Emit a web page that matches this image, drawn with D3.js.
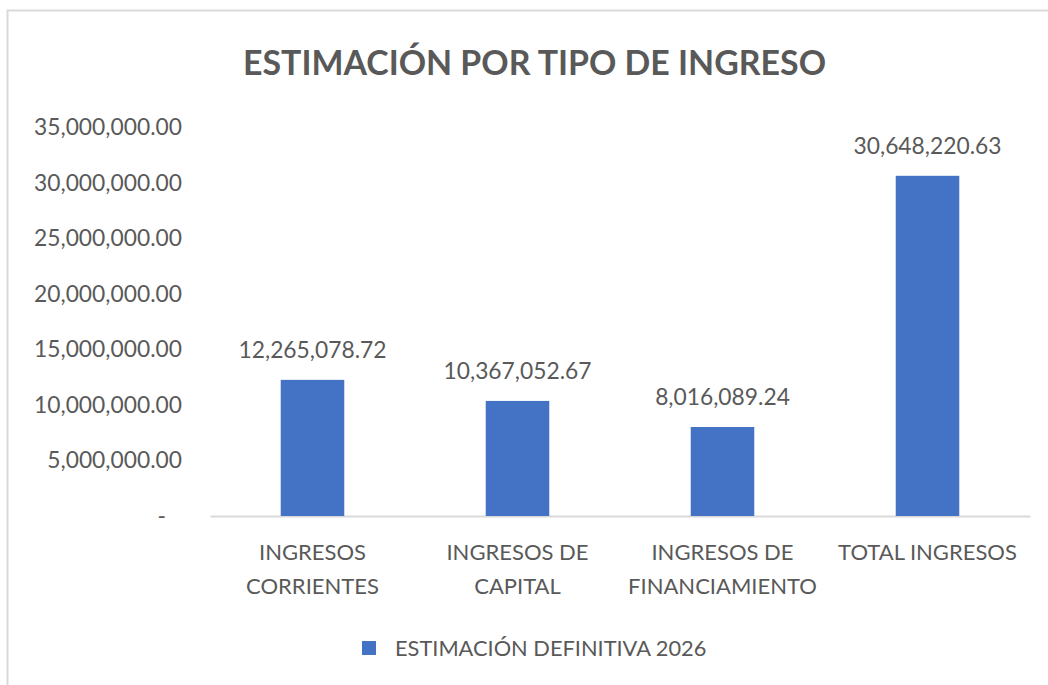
<!DOCTYPE html>
<html>
<head>
<meta charset="utf-8">
<script src="https://cdn.jsdelivr.net/npm/d3@7"></script>
<style>
  body { margin: 0; background: #fff; }
  svg { display: block; font-family: Lato, "Open Sans", sans-serif; }
</style>
</head>
<body>
<div id="chart"></div>
<script>
const width = 1048;
const height = 685;
const margin = { top: 127.5, right: 18, bottom: 169, left: 210 };

const categories = [
    ["INGRESOS", "CORRIENTES"],
    ["INGRESOS DE", "CAPITAL"],
    ["INGRESOS DE", "FINANCIAMIENTO"],
    ["TOTAL INGRESOS"]
];
const values = [12265078.72, 10367052.67, 8016089.24, 30648220.63];
const yTicks = [0, 5000000, 10000000, 15000000, 20000000, 25000000, 30000000, 35000000];
const seriesName = "ESTIMACIÓN DEFINITIVA 2026";
const title = "ESTIMACIÓN POR TIPO DE INGRESO";

const textColor = "#595959";
const barColor = "#4472C4";

const data = categories.map((c, i) => ({ key: i, label: c, value: values[i] }));

const innerW = width - margin.left - margin.right;
const innerH = height - margin.top - margin.bottom;

const svg = d3.select("#chart")
    .append("svg")
    .attr("width", width)
    .attr("height", height);

// chart area border (partly cropped in the original)
svg.append("rect")
    .attr("x", 7.5)
    .attr("y", 10.5)
    .attr("width", width + 20)
    .attr("height", height + 20)
    .attr("fill", "none")
    .attr("stroke", "#d9d9d9")
    .attr("stroke-width", 2);

svg.append("text")
    .attr("x", 534.5)
    .attr("y", 75)
    .attr("text-anchor", "middle")
    .attr("fill", textColor)
    .attr("font-size", 35)
    .attr("font-weight", "bold")
    .attr("textLength", 583)
    .attr("lengthAdjust", "spacingAndGlyphs")
    .text(title);

const g = svg.append("g")
    .attr("transform", `translate(${margin.left}, ${margin.top})`);

const xScale = d3.scaleBand()
    .domain(data.map(d => d.key))
    .range([0, innerW]);

const yScale = d3.scaleLinear()
    .domain([0, 35000000])
    .range([innerH, 0]);

const fmt = d3.format(",.2f");

// y axis labels (no line, no ticks)
const yAxis = d3.axisLeft(yScale)
    .tickValues(yTicks)
    .tickSize(0)
    .tickPadding(28)
    .tickFormat(d => d === 0 ? "-" : fmt(d));

const yG = g.append("g").call(yAxis);
yG.select(".domain").remove();
yG.selectAll("text")
    .attr("fill", textColor)
    .attr("font-size", 22.8)
    .attr("font-family", "Lato, sans-serif")
    .attr("dx", d => d === 0 ? -16 : 0);

// x axis baseline
const xAxis = d3.axisBottom(xScale).tickSize(0).tickFormat("");
const xG = g.append("g")
    .attr("transform", `translate(0, ${innerH})`)
    .call(xAxis);
xG.select(".domain").attr("stroke", "#d9d9d9").attr("stroke-width", 2);

// category labels
const labelG = g.append("g")
    .attr("transform", `translate(0, ${innerH})`);
labelG.selectAll("text.cat")
    .data(data)
    .enter().append("text")
    .attr("class", "cat")
    .attr("x", d => xScale(d.key) + xScale.bandwidth() / 2)
    .attr("y", 44)
    .attr("text-anchor", "middle")
    .attr("fill", textColor)
    .attr("font-size", 22)
    .each(function (d) {
        d3.select(this).selectAll("tspan")
            .data(d.label)
            .enter().append("tspan")
            .attr("x", xScale(d.key) + xScale.bandwidth() / 2)
            .attr("dy", (t, i) => i === 0 ? 0 : 34)
            .text(t => t);
    });

const barW = xScale.bandwidth() * 0.31;

g.selectAll(".bar")
    .data(data)
    .enter().append("rect")
    .attr("class", "bar")
    .attr("x", d => xScale(d.key) + (xScale.bandwidth() - barW) / 2)
    .attr("y", d => yScale(d.value))
    .attr("width", barW)
    .attr("height", d => innerH - yScale(d.value))
    .attr("fill", barColor);

g.selectAll(".val")
    .data(data)
    .enter().append("text")
    .attr("class", "val")
    .attr("x", d => xScale(d.key) + xScale.bandwidth() / 2)
    .attr("y", d => yScale(d.value) - 22)
    .attr("text-anchor", "middle")
    .attr("fill", textColor)
    .attr("font-size", 22.8)
    .text(d => fmt(d.value));

// legend
const legend = svg.append("g")
    .attr("transform", "translate(362, 641)");
legend.append("rect")
    .attr("width", 14)
    .attr("height", 14)
    .attr("fill", barColor);
legend.append("text")
    .attr("x", 33)
    .attr("y", 15)
    .attr("fill", textColor)
    .attr("font-size", 21.8)
    .text(seriesName);
</script>
</body>
</html>
